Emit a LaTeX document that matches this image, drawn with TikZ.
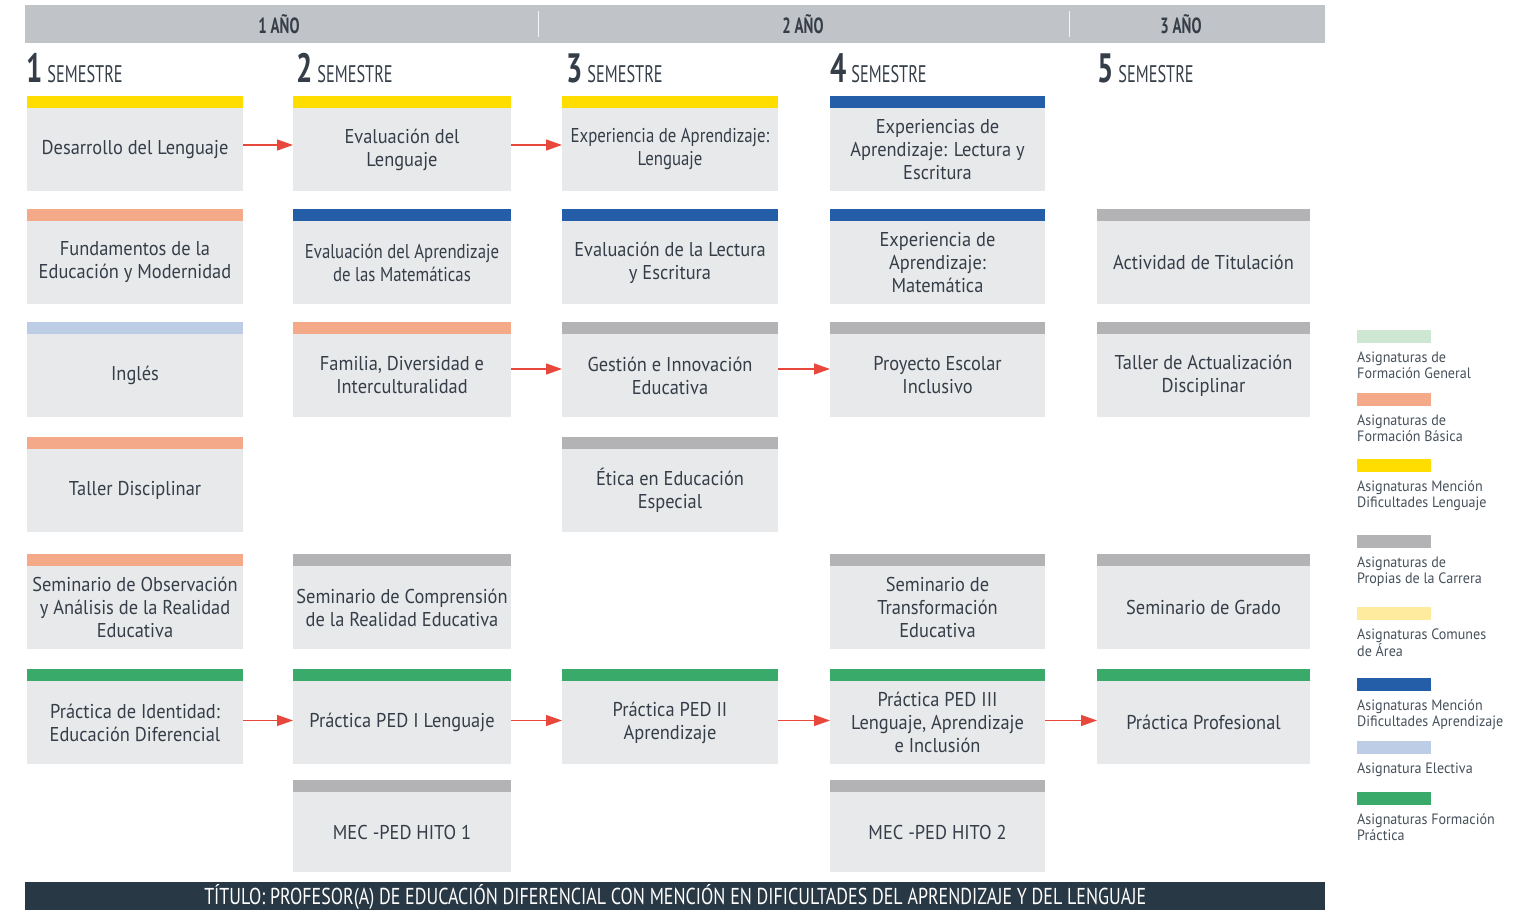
\documentclass[tikz,border=0pt]{standalone}
\usepackage{fontspec}
\setmainfont{PT Sans}
\newfontfamily\boxfont{PT Sans}[FakeStretch=0.92]
\newfontfamily\tightfont{PT Sans}[FakeStretch=0.84]
\newfontfamily\legfont{PT Sans}[FakeStretch=0.94]
\newfontfamily\condfont{PT Sans}[FakeStretch=0.68]
\newfontfamily\footfont{PT Sans}[FakeStretch=0.78]
\newfontfamily\numfont{PT Sans}[FakeStretch=0.7]
\usetikzlibrary{arrows.meta}
\definecolor{cyellow}{HTML}{FFDD00}
\definecolor{csalmon}{HTML}{F4A988}
\definecolor{cblue}{HTML}{245DA8}
\definecolor{cgray}{HTML}{B3B3B6}
\definecolor{clblue}{HTML}{BDCDE6}
\definecolor{cgreen}{HTML}{3AAA6A}
\definecolor{clgreen}{HTML}{CDE7D3}
\definecolor{clyellow}{HTML}{FEEB9E}
\definecolor{boxfill}{HTML}{E8E9EB}
\definecolor{headfill}{HTML}{C0C3C7}
\definecolor{footfill}{HTML}{283845}
\definecolor{txt}{HTML}{353E48}
\definecolor{legtxt}{HTML}{46505A}
\definecolor{arrowred}{HTML}{E8483C}
\tikzset{
  barnode/.style={rectangle, inner sep=0pt, outer sep=0pt, minimum height=12pt, anchor=north west},
  boxnode/.style={rectangle, fill=boxfill, inner sep=0pt, outer sep=0pt, anchor=north west, align=center, text=txt, font=\boxfont\fontsize{20}{23}\selectfont},
  flow/.style={draw=arrowred, line width=1.3pt, -{Triangle[length=16pt,width=11pt]}},
  legbar/.style={rectangle, inner sep=0pt, outer sep=0pt, minimum width=74pt, minimum height=13pt, anchor=north west},
  legtext/.style={inner sep=0pt, anchor=north west, align=left, text=legtxt, font=\legfont\fontsize{15}{16}\selectfont},
  yearlbl/.style={text=txt, font=\condfont\bfseries\fontsize{22}{22}\selectfont, inner sep=0pt},
  semlbl/.style={anchor=base west, inner sep=0pt, text=txt},
}
\newcommand\course[7]{%
  \node[barnode, fill=#6, minimum width=#3pt] (#1bar) at (#2,#4) {};
  \node[boxnode, minimum width=#3pt, minimum height={(#5-#4-12)*1pt}] (#1) at (#2,#4+12) {#7};
}
\newcommand\semlabel[3]{%
  \node[semlbl] (#1) at (#2,82) {{\numfont\bfseries\fontsize{41}{41}\selectfont #3}\hspace{5pt}{\condfont\fontsize{24}{24}\selectfont SEMESTRE}};
}
\newcommand\legend[4]{%
  \node[legbar, fill=#3] (#1bar) at (1357,#2) {};
  \node[legtext] (#1) at (1357,#2+21.5) {#4};
}
\begin{document}
\begin{tikzpicture}[x=1pt,y=-1pt]
\useasboundingbox (0,0) rectangle (1528,910);
% header
\node[rectangle, fill=headfill, inner sep=0pt, minimum width=1300pt, minimum height=38pt, anchor=north west] (head) at (25,5) {};
\draw[white!85!headfill, line width=1pt] (538,11) -- (538,37);
\draw[white!85!headfill, line width=1pt] (1069,11) -- (1069,37);
\node[yearlbl] (y1) at (279,24) {1 AÑO};
\node[yearlbl] (y2) at (803,24) {2 AÑO};
\node[yearlbl] (y3) at (1181,24) {3 AÑO};
% semesters
\semlabel{s1}{26}{1}
\semlabel{s2}{296}{2}
\semlabel{s3}{566}{3}
\semlabel{s4}{830}{4}
\semlabel{s5}{1097}{5}
% row 1
\course{a1}{27}{216}{96}{191}{cyellow}{Desarrollo del Lenguaje}
\course{b1}{293}{218}{96}{191}{cyellow}{Evaluación del\\Lenguaje}
\course{c1}{562}{216}{96}{191}{cyellow}{\tightfont Experiencia de Aprendizaje:\\\tightfont Lenguaje}
\course{d1}{830}{215}{96}{191}{cblue}{Experiencias de\\Aprendizaje: Lectura y\\Escritura}
% row 2
\course{a2}{27}{216}{209}{304}{csalmon}{Fundamentos de la\\Educación y Modernidad}
\course{b2}{293}{218}{209}{304}{cblue}{\tightfont Evaluación del Aprendizaje\\\tightfont de las Matemáticas}
\course{c2}{562}{216}{209}{304}{cblue}{Evaluación de la Lectura\\y Escritura}
\course{d2}{830}{215}{209}{304}{cblue}{Experiencia de\\Aprendizaje:\\Matemática}
\course{e2}{1097}{213}{209}{304}{cgray}{Actividad de Titulación}
% row 3
\course{a3}{27}{216}{322}{417}{clblue}{Inglés}
\course{b3}{293}{218}{322}{417}{csalmon}{Familia, Diversidad e\\Interculturalidad}
\course{c3}{562}{216}{322}{417}{cgray}{Gestión e Innovación\\Educativa}
\course{d3}{830}{215}{322}{417}{cgray}{Proyecto Escolar\\Inclusivo}
\course{e3}{1097}{213}{322}{417}{cgray}{Taller de Actualización\\Disciplinar}
% row 4
\course{a4}{27}{216}{437}{532}{csalmon}{Taller Disciplinar}
\course{c4}{562}{216}{437}{532}{cgray}{Ética en Educación\\Especial}
% row 5
\course{a5}{27}{216}{554}{649}{csalmon}{Seminario de Observación\\y Análisis de la Realidad\\Educativa}
\course{b5}{293}{218}{554}{649}{cgray}{Seminario de Comprensión\\de la Realidad Educativa}
\course{d5}{830}{215}{554}{649}{cgray}{Seminario de\\Transformación\\Educativa}
\course{e5}{1097}{213}{554}{649}{cgray}{Seminario de Grado}
% row 6
\course{a6}{27}{216}{669}{764}{cgreen}{Práctica de Identidad:\\Educación Diferencial}
\course{b6}{293}{218}{669}{764}{cgreen}{Práctica PED I Lenguaje}
\course{c6}{562}{216}{669}{764}{cgreen}{Práctica PED II\\Aprendizaje}
\course{d6}{830}{215}{669}{764}{cgreen}{Práctica PED III\\Lenguaje, Aprendizaje\\e Inclusión}
\course{e6}{1097}{213}{669}{764}{cgreen}{Práctica Profesional}
% row 7
\course{b7}{293}{218}{780}{872}{cgray}{MEC -PED HITO 1}
\course{d7}{830}{215}{780}{872}{cgray}{MEC -PED HITO 2}
% arrows
\draw[flow] ([yshift=4.5pt]a1.east) -- ([yshift=4.5pt]b1.west);
\draw[flow] ([yshift=4.5pt]b1.east) -- ([yshift=4.5pt]c1.west);
\draw[flow] ([yshift=6.5pt]b3.east) -- ([yshift=6.5pt]c3.west);
\draw[flow] ([yshift=6.5pt]c3.east) -- ([yshift=6.5pt]d3.west);
\draw[flow] ([yshift=2pt]a6.east) -- ([yshift=2pt]b6.west);
\draw[flow] ([yshift=2pt]b6.east) -- ([yshift=2pt]c6.west);
\draw[flow] ([yshift=2pt]c6.east) -- ([yshift=2pt]d6.west);
\draw[flow] ([yshift=2pt]d6.east) -- ([yshift=2pt]e6.west);
% footer
\node[rectangle, fill=footfill, inner sep=0pt, minimum width=1300pt, minimum height=28pt, anchor=north west] (foot) at (25,882) {};
\node[text=white, inner sep=0pt, font=\footfont\fontsize{23}{23}\selectfont] (foottxt) at ([yshift=-1pt]foot.center) {TÍTULO: PROFESOR(A) DE EDUCACIÓN DIFERENCIAL CON MENCIÓN EN DIFICULTADES DEL APRENDIZAJE Y DEL LENGUAJE};
% legend
\legend{l1}{330}{clgreen}{Asignaturas de\\Formación General}
\legend{l2}{393}{csalmon}{Asignaturas de\\Formación Básica}
\legend{l3}{459}{cyellow}{Asignaturas Mención\\Dificultades Lenguaje}
\legend{l4}{535}{cgray}{Asignaturas de\\Propias de la Carrera}
\legend{l5}{607}{clyellow}{Asignaturas Comunes\\de Área}
\legend{l6}{678}{cblue}{Asignaturas Mención\\Dificultades Aprendizaje}
\legend{l7}{741}{clblue}{Asignatura Electiva}
\legend{l8}{792}{cgreen}{Asignaturas Formación\\Práctica}
\end{tikzpicture}
\end{document}
